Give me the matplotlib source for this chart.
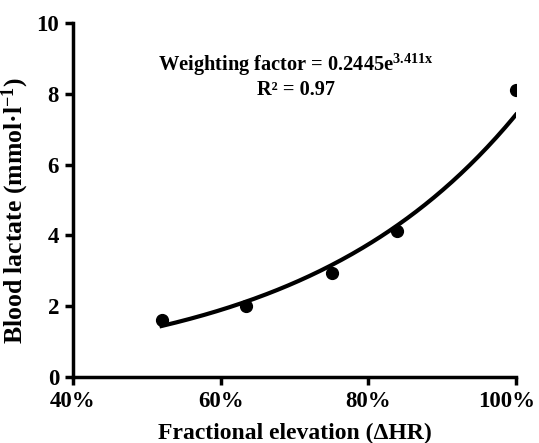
import numpy as np
import matplotlib
matplotlib.use("Agg")
import matplotlib.pyplot as plt
from matplotlib.ticker import FuncFormatter
from matplotlib.transforms import ScaledTranslation

plt.rcParams['font.family'] = ['Liberation Serif', 'DejaVu Serif']
plt.rcParams['font.weight'] = 'bold'
plt.rcParams['mathtext.fontset'] = 'custom'
plt.rcParams['mathtext.rm'] = 'Liberation Serif:bold'
plt.rcParams['mathtext.it'] = 'Liberation Serif:bold'
plt.rcParams['mathtext.bf'] = 'Liberation Serif:bold'

# data
hr_elev = [0.52, 0.635, 0.751, 0.839, 1.00]
lactate = [1.62, 2.00, 2.94, 4.13, 8.10]

# fitted curve: weighting factor = 0.2445 e^(3.411 x)
fit_a = 0.2445
fit_b = 3.411

fig = plt.figure(figsize=(5.39, 4.43), dpi=100)
ax = fig.add_axes([0.1354, 0.149, 0.8216, 0.799])

xs = np.linspace(min(hr_elev), max(hr_elev), 200)
ax.plot(xs, fit_a * np.exp(fit_b * xs), color='black', lw=3)
ax.plot(hr_elev, lactate, 'o', color='black', ms=8.5)

ax.set_xlim(0.4, 1.0)
ax.set_ylim(0, 10)
ax.set_xticks([0.4, 0.6, 0.8, 1.0])
ax.set_yticks([0, 2, 4, 6, 8, 10])
ax.xaxis.set_major_formatter(FuncFormatter(lambda v, p: f"{v*100:.0f}%"))

for s in ['top', 'right']:
    ax.spines[s].set_visible(False)
for s in ['left', 'bottom']:
    ax.spines[s].set_linewidth(2.5)
ax.tick_params(width=2.5, length=6, labelsize=16.5, pad=4)
for lbl in ax.get_xticklabels() + ax.get_yticklabels():
    lbl.set_fontweight('bold')
last = ax.get_xticklabels()[-1]
last.set_horizontalalignment('right')
last.set_transform(last.get_transform() + ScaledTranslation(0.19, 0, fig.dpi_scale_trans))

ax.set_xlabel('Fractional elevation (\u0394HR)', fontsize=17, fontweight='bold', labelpad=8)
ax.set_ylabel('Blood lactate (mmol\u00b7l$^{\\mathrm{-1}}$)', fontsize=18.5, fontweight='bold')
ax.yaxis.set_label_coords(-0.094, 0.47)

ax.text(0.702, 8.82, 'Weighting factor = 0.2445e$^{\\mathrm{3.411x}}$', ha='center', va='center',
        fontsize=14.7, fontweight='bold')
ax.text(0.702, 8.1, 'R\u00b2 = 0.97', ha='center', va='center', fontsize=14.7, fontweight='bold')

fig.savefig('out.png', dpi=100)
